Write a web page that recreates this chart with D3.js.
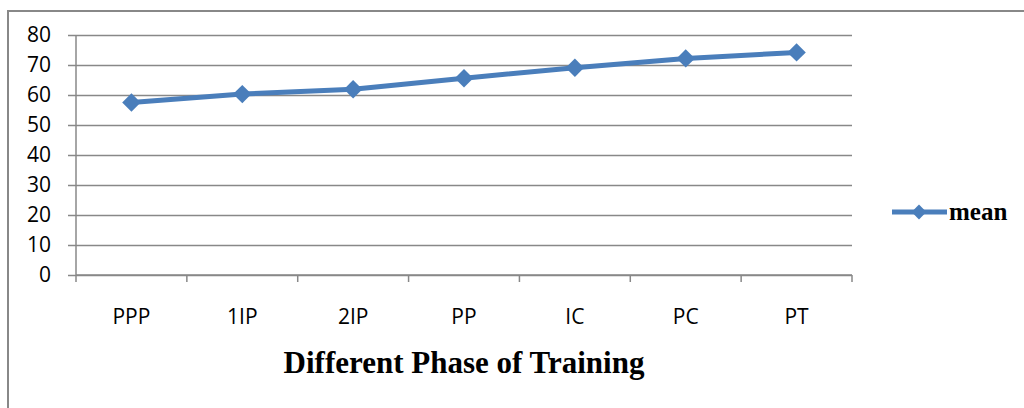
<!DOCTYPE html>
<html>
<head>
<meta charset="utf-8">
<script src="https://cdn.jsdelivr.net/npm/d3@7"></script>
<style>
  body { margin: 0; background: #fff; }
  svg { display: block; }
</style>
</head>
<body>
<svg id="chart" width="1024" height="408"></svg>
<script>
// data
var phases = ["PPP", "1IP", "2IP", "PP", "IC", "PC", "PT"];
var meanValues = [57.5, 60.3, 61.9, 65.6, 69.1, 72.2, 74.2];
var yTicks = [0, 10, 20, 30, 40, 50, 60, 70, 80];
var seriesName = "mean";
var xTitle = "Different Phase of Training";

var svg = d3.select("#chart");
var gray = "#888888";
var blue = "#4a7ebb";

// outer frame (only top and left visible in the crop)
svg.append("path")
  .attr("d", "M8,420 L8,11 L1030,11")
  .attr("fill", "none")
  .attr("stroke", gray)
  .attr("stroke-width", 2);

var margin = {left: 76, right: 852, top: 35, bottom: 275};

var x = d3.scaleBand()
  .domain(phases)
  .range([margin.left, margin.right]);

var y = d3.scaleLinear()
  .domain([0, 80])
  .range([margin.bottom, margin.top]);

// gridlines + y ticks
var yAxis = d3.axisLeft(y)
  .tickValues(yTicks)
  .tickSize(-(margin.right - margin.left))
  .tickPadding(25)
  .tickFormat(d3.format("d"));

var gy = svg.append("g")
  .attr("transform", "translate(" + margin.left + ",0)")
  .call(yAxis);
gy.select(".domain").remove();
gy.selectAll(".tick line")
  .attr("x1", -8)
  .attr("stroke", gray)
  .attr("stroke-width", 1.5);
gy.selectAll(".tick text")
  .attr("fill", "#000")
  .style("font-family", "'Open Sans', sans-serif")
  .style("font-size", "21px");

// y axis line
svg.append("line")
  .attr("x1", margin.left).attr("x2", margin.left)
  .attr("y1", margin.top).attr("y2", margin.bottom)
  .attr("stroke", gray)
  .attr("stroke-width", 1.5);

// x axis: ticks at category boundaries
var xAxisG = svg.append("g")
  .attr("transform", "translate(0," + margin.bottom + ")");
xAxisG.append("line")
  .attr("x1", margin.left).attr("x2", margin.right)
  .attr("stroke", gray)
  .attr("stroke-width", 1.5);
var bounds = phases.map(function(p) { return x(p); }).concat([x(phases[phases.length - 1]) + x.bandwidth()]);
xAxisG.selectAll(".bt")
  .data(bounds)
  .enter().append("line")
  .attr("x1", function(d) { return d; })
  .attr("x2", function(d) { return d; })
  .attr("y1", 0).attr("y2", 7)
  .attr("stroke", gray)
  .attr("stroke-width", 1.5);
xAxisG.selectAll(".lbl")
  .data(phases)
  .enter().append("text")
  .attr("x", function(d) { return x(d) + x.bandwidth() / 2; })
  .attr("y", 49)
  .attr("text-anchor", "middle")
  .attr("fill", "#000")
  .style("font-family", "'Open Sans', sans-serif")
  .style("font-size", "21px")
  .text(function(d) { return d; });

// axis title
svg.append("text")
  .attr("x", (margin.left + margin.right) / 2)
  .attr("y", 373)
  .attr("text-anchor", "middle")
  .style("font-family", "'Liberation Serif', 'Times New Roman', serif")
  .style("font-weight", "bold")
  .style("font-size", "31px")
  .text(xTitle);

// the line
var line = d3.line()
  .x(function(d, i) { return x(phases[i]) + x.bandwidth() / 2; })
  .y(function(d) { return y(d); });

svg.append("path")
  .datum(meanValues)
  .attr("fill", "none")
  .attr("stroke", blue)
  .attr("stroke-width", 5)
  .attr("stroke-linejoin", "round")
  .attr("d", line);

var diamond = d3.symbol().type(d3.symbolSquare).size(170);
svg.selectAll(".pt")
  .data(meanValues)
  .enter().append("path")
  .attr("d", diamond)
  .attr("fill", blue)
  .attr("transform", function(d, i) {
    return "translate(" + (x(phases[i]) + x.bandwidth() / 2) + "," + y(d) + ") rotate(45)";
  });

// legend
var lg = svg.append("g").attr("transform", "translate(892,212)");
lg.append("line")
  .attr("x1", 0).attr("x2", 55)
  .attr("stroke", blue)
  .attr("stroke-width", 5);
lg.append("path")
  .attr("d", d3.symbol().type(d3.symbolSquare).size(110))
  .attr("fill", blue)
  .attr("transform", "translate(27,0) rotate(45)");
lg.append("text")
  .attr("x", 57)
  .attr("y", 8)
  .style("font-family", "'Liberation Serif', 'Times New Roman', serif")
  .style("font-weight", "bold")
  .style("font-size", "25px")
  .text(seriesName);
</script>
</body>
</html>
